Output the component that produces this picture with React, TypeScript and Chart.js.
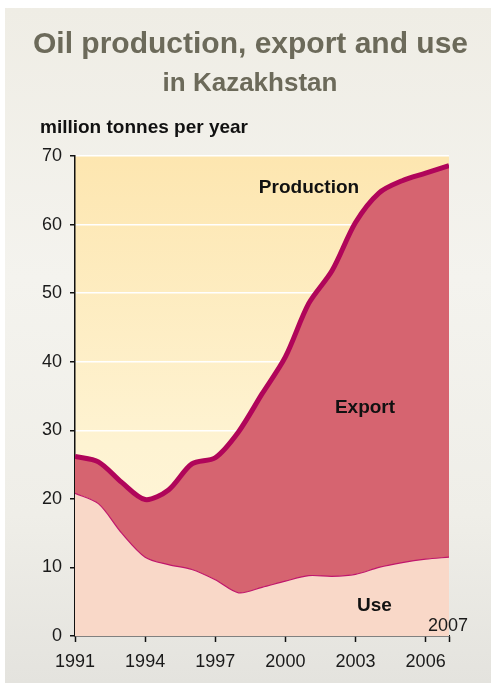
import React, { useEffect, useRef } from "react";
import { Chart, registerables } from "chart.js";

Chart.register(...registerables);

const years = [1991, 1992, 1993, 1994, 1995, 1996, 1997, 1998, 1999, 2000, 2001, 2002, 2003, 2004, 2005, 2006, 2007];
const production = [26.2, 25.4, 22.4, 19.9, 21.3, 25.1, 26.0, 29.8, 35.3, 40.7, 48.5, 53.3, 60.3, 64.6, 66.4, 67.5, 68.6];
const domesticUse = [20.8, 19.3, 15.0, 11.5, 10.4, 9.7, 8.2, 6.3, 7.1, 8.0, 8.8, 8.7, 9.0, 10.0, 10.7, 11.2, 11.5];
const xTickYears = [1991, 1994, 1997, 2000, 2003, 2006, 2007];
const yTickValues = [0, 10, 20, 30, 40, 50, 60, 70];

const FONT = '"Liberation Sans", Arial, Helvetica, sans-serif';

const plotBg = {
  id: "plotBg",
  beforeDraw(chart: any) {
    const { ctx, chartArea } = chart;
    if (!chartArea) return;
    const g = ctx.createLinearGradient(0, chartArea.top, 0, chartArea.bottom);
    g.addColorStop(0, "#fde6b0");
    g.addColorStop(0.6, "#fef3d2");
    g.addColorStop(1, "#fff7dc");
    ctx.save();
    ctx.fillStyle = g;
    ctx.fillRect(chartArea.left, chartArea.top, chartArea.right - chartArea.left, chartArea.bottom - chartArea.top);
    ctx.restore();
  },
};

function Label(props: { text: string; x: number; top: number; size: number; bold?: boolean; color?: string; align?: "center" | "left" }) {
  const { text, x, top, size, bold, color, align } = props;
  return (
    <div
      style={{
        position: "absolute",
        left: x,
        top,
        transform: align === "left" ? "none" : "translateX(-50%)",
        whiteSpace: "nowrap",
        fontFamily: FONT,
        fontSize: size,
        lineHeight: 1,
        fontWeight: bold ? "bold" : "normal",
        color: color || "#111",
      }}
    >
      {text}
    </div>
  );
}

export default function App() {
  const ref = useRef<HTMLCanvasElement | null>(null);

  useEffect(() => {
    if (!ref.current) return;
    const chart = new Chart(ref.current, {
      type: "line",
      data: {
        datasets: [
          {
            label: "Use",
            data: years.map((y, i) => ({ x: y, y: domesticUse[i] })),
            fill: "origin",
            backgroundColor: "#f9d8c8",
            borderColor: "#c0166c",
            borderWidth: 1.2,
            pointRadius: 0,
            tension: 0.3,
          },
          {
            label: "Production",
            data: years.map((y, i) => ({ x: y, y: production[i] })),
            fill: "-1",
            backgroundColor: "#d66470",
            borderColor: "#b0055a",
            borderWidth: 5,
            pointRadius: 0,
            tension: 0.3,
          },
        ],
      },
      options: {
        animation: false,
        responsive: false,
        maintainAspectRatio: false,
        layout: { padding: { left: 5, top: 156, right: 42, bottom: 20 } },
        plugins: { legend: { display: false }, tooltip: { enabled: false } },
        scales: {
          x: {
            type: "linear",
            min: 1991,
            max: 2007,
            afterBuildTicks: (s: any) => {
              s.ticks = xTickYears.map((v) => ({ value: v }));
            },
            afterFit: (s: any) => {
              s.height = 31;
            },
            ticks: {
              callback: (v: any) => (v === 2007 ? "" : String(v)),
              font: { family: FONT, size: 18 },
              color: "#1a1a1a",
              padding: 9,
              maxRotation: 0,
              autoSkip: false,
            },
            grid: { color: "rgba(0,0,0,0)", drawOnChartArea: false, tickColor: "#111", tickLength: 6, tickWidth: 1.5 },
            border: { color: "#111", width: 1.5 },
          },
          y: {
            min: 0,
            max: 70,
            afterBuildTicks: (s: any) => {
              s.ticks = yTickValues.map((v) => ({ value: v }));
            },
            afterFit: (s: any) => {
              s.width = 70;
            },
            ticks: {
              font: { family: FONT, size: 18 },
              color: "#1a1a1a",
              padding: 8,
            },
            grid: { color: "#ffffff", lineWidth: 1.5, tickColor: "#111", tickLength: 5, tickWidth: 1.5 },
            border: { color: "#111", width: 1.5 },
          },
        },
      },
      plugins: [plotBg],
    } as any);
    return () => chart.destroy();
  }, []);

  return (
    <div style={{ position: "absolute", left: 0, top: 0, width: 491, height: 687, background: "#ffffff", overflow: "hidden" }}>
      <div
        style={{
          position: "absolute",
          left: 5,
          top: 8,
          width: 486,
          height: 675,
          background: "linear-gradient(180deg, #efede5 0%, #f4f3ee 40%, #efeee8 75%, #e4e3de 100%)",
        }}
      />
      <canvas ref={ref} width={491} height={687} style={{ position: "absolute", left: 0, top: 0, width: 491, height: 687 }} />
      <Label text="Oil production, export and use" x={250.5} top={27.5} size={30} bold color="#6c6a5a" />
      <Label text="in Kazakhstan" x={250} top={69} size={26} bold color="#6c6a5a" />
      <Label text="million tonnes per year" x={40} top={117} size={19} bold color="#111" align="left" />
      <Label text="Production" x={309} top={177} size={19} bold />
      <Label text="Export" x={365} top={397} size={19} bold />
      <Label text="Use" x={374.5} top={595} size={19} bold />
      <Label text="2007" x={428} top={616} size={18} color="#1a1a1a" align="left" />
    </div>
  );
}
